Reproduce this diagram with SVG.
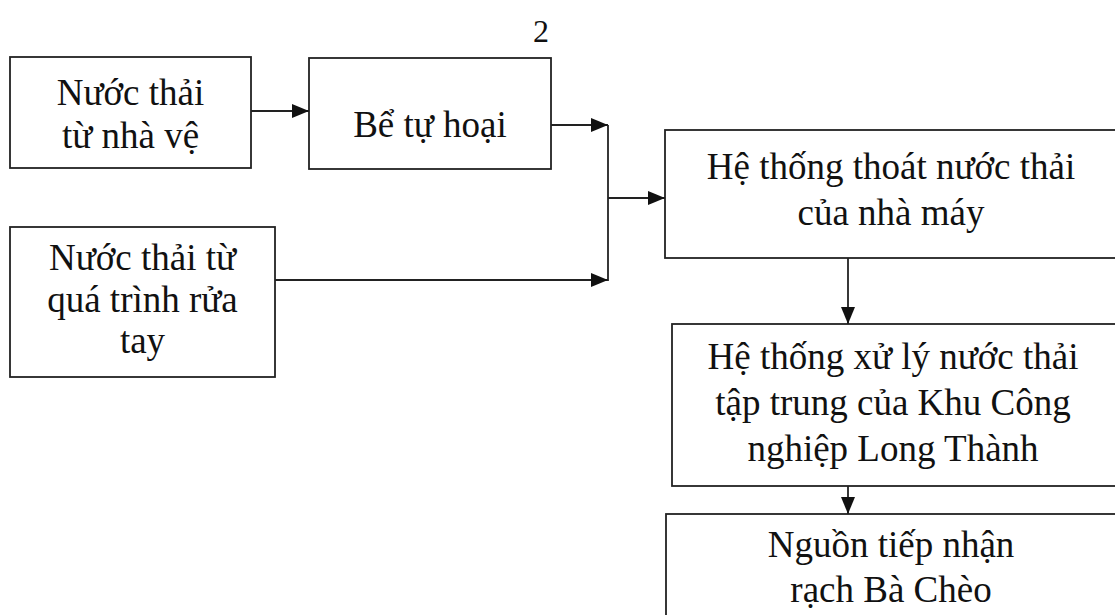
<svg xmlns="http://www.w3.org/2000/svg" width="1115" height="615" viewBox="0 0 1115 615">
<style>
.box{fill:#fff;stroke:#222;stroke-width:1.8}
.t{font-family:"Liberation Serif","Times New Roman",serif;font-size:37px;fill:#111;text-anchor:middle}
.c{fill:none;stroke:#222;stroke-width:1.8}
</style>
<defs>
<marker id="ah" markerUnits="userSpaceOnUse" markerWidth="18" markerHeight="14" refX="17" refY="7" orient="auto">
<path d="M0,0 L17,7 L0,14 z" fill="#111"/>
</marker>
</defs>
<rect width="1115" height="615" fill="#fff"/>
<text class="t" x="541" y="42" style="font-size:32px">2</text>
<g id="n1"><rect class="box" x="10" y="57" width="241" height="111"/>
<text class="t" x="130.5" y="105">Nước thải</text><text class="t" x="130.5" y="148">từ nhà vệ</text></g>
<g id="n2"><rect class="box" x="309" y="58" width="242" height="111"/>
<text class="t" x="430" y="137">Bể tự hoại</text></g>
<g id="n3"><rect class="box" x="10" y="227" width="265" height="150"/>
<text class="t" x="142.5" y="270">Nước thải từ</text><text class="t" x="142.5" y="312">quá trình rửa</text><text class="t" x="142.5" y="353">tay</text></g>
<g id="n4"><rect class="box" x="665" y="130" width="452" height="128"/>
<text class="t" x="891" y="179">Hệ thống thoát nước thải</text><text class="t" x="891" y="225">của nhà máy</text></g>
<g id="n5"><rect class="box" x="672" y="324" width="445" height="162"/>
<text class="t" x="893" y="369">Hệ thống xử lý nước thải</text><text class="t" x="893" y="415">tập trung của Khu Công</text><text class="t" x="893" y="461">nghiệp Long Thành</text></g>
<g id="n6"><rect class="box" x="666" y="514" width="451" height="120"/>
<text class="t" x="891" y="557">Nguồn tiếp nhận</text><text class="t" x="891" y="602">rạch Bà Chèo</text></g>
<g id="connectors">
<line class="c" x1="251" y1="111" x2="309" y2="111" marker-end="url(#ah)"/>
<line class="c" x1="551" y1="125" x2="608" y2="125" marker-end="url(#ah)"/>
<line class="c" x1="275" y1="280" x2="608" y2="280" marker-end="url(#ah)"/>
<line class="c" x1="608" y1="125" x2="608" y2="281"/>
<line class="c" x1="608" y1="198" x2="665" y2="198" marker-end="url(#ah)"/>
<line class="c" x1="848" y1="258" x2="848" y2="324" marker-end="url(#ah)"/>
<line class="c" x1="848" y1="486" x2="848" y2="514" marker-end="url(#ah)"/>
</g>
</svg>
